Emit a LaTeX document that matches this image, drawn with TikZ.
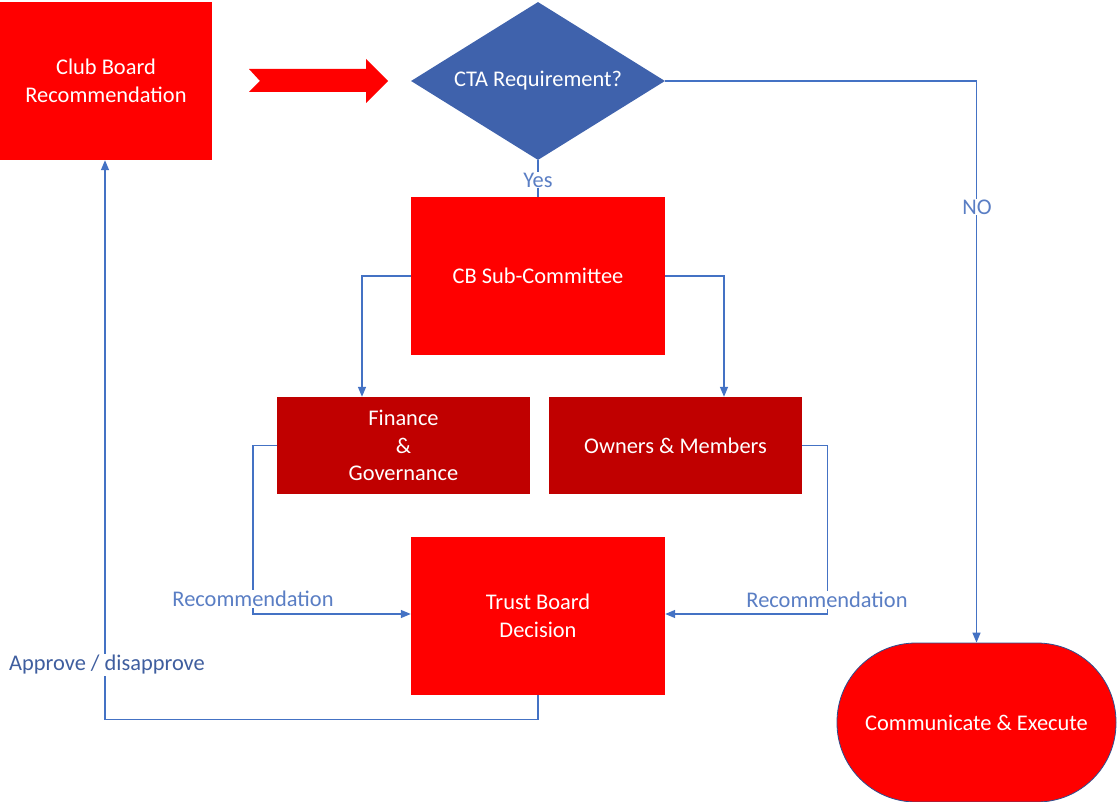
\documentclass[tikz,border=0pt]{standalone}
\usepackage{fontspec}
\setmainfont{Carlito}
\usetikzlibrary{shapes.geometric,arrows.meta}
\definecolor{cbred}{HTML}{FF0000}
\definecolor{cbdark}{HTML}{C00000}
\definecolor{ctablue}{HTML}{3F62AC}
\definecolor{lnblue}{HTML}{4472C4}
\definecolor{lblblue}{HTML}{5A7EC4}
\definecolor{apblue}{HTML}{3F5E9F}
\definecolor{rimblue}{HTML}{2F4F8F}
\begin{document}
\begin{tikzpicture}[x=1pt,y=-1pt,
  every node/.style={font=\fontsize{22.4}{27.5}\selectfont},
  redbox/.style={rectangle,fill=cbred,text=white,inner sep=0pt,align=center},
  darkbox/.style={rectangle,fill=cbdark,text=white,inner sep=0pt,align=center,minimum width=253pt,minimum height=97pt},
  conn/.style={draw=lnblue,line width=1.4pt},
  arr/.style={conn,-{Triangle[length=10pt,width=8pt]}},
  lbl/.style={text=lblblue,fill=white,inner sep=1pt}]
\useasboundingbox (0,0) rectangle (1117,802);
% nodes
\node[redbox,minimum width=212pt,minimum height=158pt] (club) at (106,81) {Club Board\\Recommendation};
\node[diamond,aspect=1.6,fill=ctablue,text=white,inner sep=0pt,minimum width=254pt,minimum height=158pt] (cta) at (538,81) {CTA Requirement?};
\node[redbox,minimum width=254pt,minimum height=158pt] (cbsub) at (538,276) {CB Sub-Committee};
\node[darkbox] (fin) at (403.5,445.5) {Finance\\\&\\Governance};
\node[darkbox] (own) at (675.5,445.5) {Owners \& Members};
\node[redbox,minimum width=254pt,minimum height=158pt] (trust) at (538,616) {Trust Board\\Decision};
\node[rectangle,rounded corners=79pt,fill=cbred,draw=rimblue,line width=0.8pt,text=white,minimum width=279pt,minimum height=159pt] (comm) at (976.5,722.5) {Communicate \& Execute};
% block arrow
\fill[cbred] (249,69) -- (366,69) -- (366,59) -- (388,81) -- (366,103) -- (366,92) -- (249,92) -- (260,81) -- cycle;
% connectors
\draw[conn] (cta.south) -- (cbsub.north);
\node[lbl] (yes) at (538,180) {Yes};
\draw[arr] (cbsub.west) -| ([xshift=-41.5pt]fin.north);
\draw[arr] (cbsub.east) -| ([xshift=48.5pt]own.north);
\draw[arr] (fin.west) -- ++(-24,0) |- ([yshift=2pt]trust.west);
\node[lbl] (recl) at (253,599) {Recommendation};
\draw[arr] (own.east) -- ++(25,0) |- ([yshift=2pt]trust.east);
\node[lbl] (recr) at (827,600) {Recommendation};
\draw[arr] (trust.south) -- ++(0,24) -| ([xshift=-1pt]club.south);
\node[lbl,text=apblue] (appr) at (107,665) {Approve / disapprove};
\draw[arr] (cta.east) -| (comm.north);
\node[lbl] (no) at (977,207) {NO};
\end{tikzpicture}
\end{document}
